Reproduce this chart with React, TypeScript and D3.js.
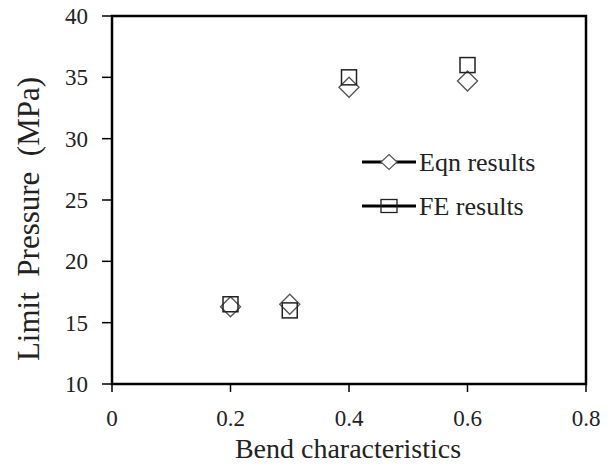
import React from "react";
import * as d3 from "d3";

// values
const bendValues = [0.2, 0.3, 0.4, 0.6];
const eqnResults = [16.3, 16.5, 34.2, 34.7];
const feResults = [16.5, 16.0, 35.0, 36.0];
const xTicks = [0, 0.2, 0.4, 0.6, 0.8];
const yTicks = [10, 15, 20, 25, 30, 35, 40];

const W = 616;
const H = 468;
const margin = { left: 112, right: 30, top: 16, bottom: 84 };
const font = "'Liberation Serif', 'Times New Roman', serif";

export default function App() {
  const x = d3.scaleLinear().domain([0, 0.8]).range([margin.left, W - margin.right]);
  const y = d3.scaleLinear().domain([10, 40]).range([H - margin.bottom, margin.top]);

  const diamond = (cx: number, cy: number, rx: number, ry: number) =>
    `M${cx},${cy - ry}L${cx + rx},${cy}L${cx},${cy + ry}L${cx - rx},${cy}Z`;

  const x0 = x.range()[0];
  const x1 = x.range()[1];
  const y0 = y.range()[0];
  const y1 = y.range()[1];

  return (
    <svg
      width={W}
      height={H}
      style={{ position: "absolute", left: 0, top: 0, background: "#fff" }}
      fontFamily={font}
    >
      {/* frame */}
      <rect x={x0} y={y1} width={x1 - x0} height={y0 - y1} fill="none" stroke="#000" strokeWidth={2.5} />

      {/* y ticks */}
      {yTicks.map((t) => (
        <g key={"y" + t}>
          <line x1={x0 - 10} x2={x0} y1={y(t)} y2={y(t)} stroke="#000" strokeWidth={1.5} />
          <text x={x0 - 24} y={y(t)} dy="0.35em" textAnchor="end" fontSize={23} fill="#222">
            {t}
          </text>
        </g>
      ))}

      {/* x ticks */}
      {xTicks.map((t) => (
        <g key={"x" + t}>
          <line x1={x(t)} x2={x(t)} y1={y0} y2={y0 + 8} stroke="#000" strokeWidth={1.5} />
          <text x={x(t)} y={y0 + 42} textAnchor="middle" fontSize={23} fill="#222">
            {t}
          </text>
        </g>
      ))}

      {/* axis titles */}
      <text x={(x0 + x1) / 2 - 1} y={458} textAnchor="middle" fontSize={28} fill="#222">
        Bend characteristics
      </text>
      <text
        transform={`translate(39, 219) rotate(-90)`}
        textAnchor="middle"
        fontSize={31}
        fill="#222"
        style={{ whiteSpace: "pre" }}
      >
        {"Limit  Pressure  (MPa)"}
      </text>

      {/* Eqn results: diamonds */}
      {bendValues.map((b, i) => (
        <path
          key={"e" + i}
          d={diamond(x(b), y(eqnResults[i]), 10, 10)}
          fill="none"
          stroke="#555"
          strokeWidth={1.4}
        />
      ))}

      {/* FE results: squares */}
      {bendValues.map((b, i) => (
        <rect
          key={"f" + i}
          x={x(b) - 7.5}
          y={y(feResults[i]) - 7.5}
          width={15}
          height={15}
          fill="none"
          stroke="#222"
          strokeWidth={1.5}
        />
      ))}

      {/* legend */}
      <g>
        <line x1={362} x2={416} y1={162} y2={162} stroke="#000" strokeWidth={3} />
        <path d={diamond(389, 162, 8, 7.5)} fill="#fff" stroke="#555" strokeWidth={1.2} />
        <text x={419} y={162} dy="0.33em" fontSize={26} fill="#222">
          Eqn results
        </text>
        <line x1={362} x2={416} y1={206} y2={206} stroke="#000" strokeWidth={3} />
        <rect x={381} y={199.5} width={16} height={13} fill="none" stroke="#222" strokeWidth={1.3} />
        <text x={419} y={206} dy="0.33em" fontSize={26} fill="#222">
          FE results
        </text>
      </g>
    </svg>
  );
}
